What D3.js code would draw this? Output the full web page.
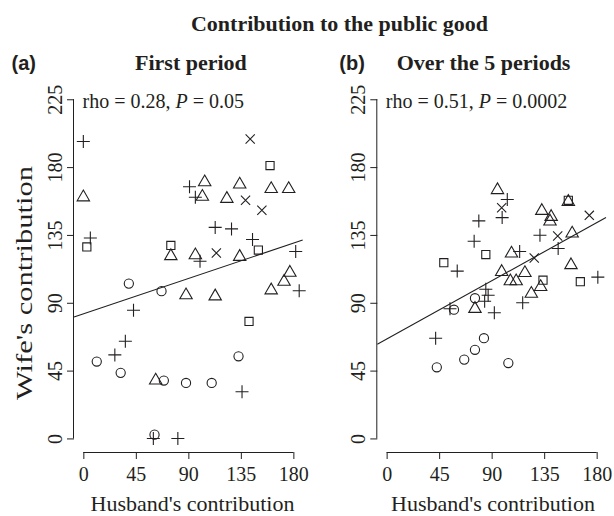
<!DOCTYPE html>
<html lang="en">
<head>
    <meta charset="UTF-8">
    <title>Contribution to the public good</title>
    <style>
        body { margin: 0; background: #fff; }
        svg { display: block; }
        text { font-family: "Liberation Serif", "Times New Roman", serif; fill: #231f20; }
        .tag { font-family: "Liberation Sans", Arial, sans-serif; font-weight: bold; }
    </style>
</head>
<body>
    <div id="chart"></div>
    <script src="https://d3js.org/d3.v7.min.js"></script>
    <script>
        // Points: [husband, wife], one array per symbol
        const firstCircle = [[39, 102.7], [67, 97.7], [11.5, 51], [32, 43.5], [133, 54.5], [69, 38.4], [88, 36.8], [110, 36.8], [61, 2.5]];
        const firstTriangle = [[0, 160], [104, 170], [134, 168.5], [102, 160.4], [123, 159], [161, 165.5], [176, 165.5], [75, 121], [96, 121.6], [134, 120.5], [177, 110], [172, 104], [161, 98.3], [88, 95], [113, 94.3], [62, 38.5]];
        const firstPlus = [[0, 197], [6, 133], [91, 167], [96, 160], [113, 140], [127, 139], [145, 132], [100, 117.5], [182, 124], [185, 98], [43, 85], [36, 64.5], [27, 55.4], [136, 31], [60, 0], [81, 0]];
        const firstCross = [[143, 198.6], [139, 158], [153, 151.4], [114, 123]];
        const firstSquare = [[3, 127], [160, 181], [75, 128], [150, 125], [142, 77.6]];

        const overCircle = [[75.7, 93], [57.7, 85.4], [83.4, 66.5], [75.7, 58.8], [66.5, 52.3], [43, 47.2], [104.3, 50]];
        const overTriangle = [[95, 164.8], [155.7, 157], [133, 151], [141, 147], [140, 144], [159, 136], [107, 122.7], [158, 115], [98.6, 110.5], [118.5, 109.8], [106, 104.3], [111, 104.3], [132, 100.5], [124, 96], [75.7, 86]];
        const overPlus = [[103.4, 158.5], [99, 146.5], [79, 144.3], [131.4, 134.8], [147, 126], [75, 130.8], [114, 124], [60.5, 111], [181, 107], [85, 99], [87, 95], [84, 91], [116.6, 90], [54.3, 86], [92.3, 83.4], [42, 66.5]];
        const overCross = [[98.6, 153], [173.7, 148], [146.6, 134.3], [126.5, 119.7]];
        const overSquare = [[155.7, 158], [85, 122], [49, 116.6], [134, 105], [166, 104]];

        const xTicks = [0, 45, 90, 135, 180];
        const yTicks = [0, 45, 90, 135, 180, 225];

        const panels = [
            { tag: "(a)", title: "First period", rho: "0.28", p: "0.05", intercept: 82.7, slope: 0.26,
              left: 74, tagX: 11.5, titleX: 135, labelX: 192.5,
              sets: [firstCircle, firstTriangle, firstPlus, firstCross, firstSquare] },
            { tag: "(b)", title: "Over the 5 periods", rho: "0.51", p: "0.0002", intercept: 65.9, slope: 0.429,
              left: 377.3, tagX: 339.3, titleX: 396.7, labelX: 493,
              sets: [overCircle, overTriangle, overPlus, overCross, overSquare] }
        ];
        const shapes = ["circle", "triangle", "plus", "cross", "square"];

        const width = 614, height = 516;
        const svg = d3.select("#chart").append("svg")
            .attr("width", width)
            .attr("height", height);

        svg.append("text")
            .attr("x", 339.5).attr("y", 31)
            .attr("text-anchor", "middle")
            .style("font-size", "22px").style("font-weight", "bold")
            .text("Contribution to the public good");

        // R-like symbol outlines, r = circle radius
        const r = 4.6;
        function symbolPath(shape) {
            if (shape === "circle") return d3.arc()({ innerRadius: 0, outerRadius: r, startAngle: 0, endAngle: 2 * Math.PI });
            if (shape === "triangle") {
                const a = 1.5551 * r, b = 1.3468 * r, c = 0.7776 * r;
                return `M0,${-a}L${b},${c}L${-b},${c}Z`;
            }
            if (shape === "plus") {
                const s = Math.SQRT2 * r;
                return `M${-s},0H${s}M0,${-s}V${s}`;
            }
            if (shape === "cross") return `M${-r},${-r}L${r},${r}M${-r},${r}L${r},${-r}`;
            const h = 0.8862 * r;
            return `M${-h},${-h}H${h}V${h}H${-h}Z`;
        }

        panels.forEach(function(pn) {
            const x = d3.scaleLinear().domain([-8, 188]).range([pn.left, pn.left + 228.7]);
            const y = d3.scaleLinear().domain([-9, 234]).range([452, 85.7]);
            const g = svg.append("g");

            g.append("text").attr("class", "tag")
                .attr("x", pn.tagX).attr("y", 70)
                .style("font-size", "20px")
                .text(pn.tag);
            g.append("text")
                .attr("x", pn.titleX).attr("y", 70)
                .style("font-size", "22px").style("font-weight", "bold")
                .text(pn.title);

            // x axis
            const xAxis = g.append("g").attr("transform", `translate(0,452)`)
                .call(d3.axisBottom(x).tickValues(xTicks).tickSize(7).tickSizeOuter(0).tickPadding(8));
            xAxis.select(".domain").attr("d", `M${x(0)},0.5H${x(180)}`);
            xAxis.selectAll("line, .domain").attr("stroke", "#231f20");
            xAxis.selectAll("text").style("font-size", "20px").attr("fill", "#231f20")
                .attr("font-family", null);

            // y axis, rotated labels like R
            const yAxis = g.append("g").attr("transform", `translate(${pn.left},0)`)
                .call(d3.axisLeft(y).tickValues(yTicks).tickSize(7).tickSizeOuter(0));
            yAxis.select(".domain").attr("d", `M-0.5,${y(0)}V${y(225)}`);
            yAxis.selectAll("line, .domain").attr("stroke", "#231f20");
            yAxis.selectAll("text")
                .attr("x", null).attr("dy", null)
                .attr("transform", "translate(-12.5,0) rotate(-90)")
                .attr("text-anchor", "middle")
                .attr("font-family", null)
                .style("font-size", "20px").attr("fill", "#231f20");

            g.append("text")
                .attr("x", pn.labelX).attr("y", 511)
                .attr("text-anchor", "middle")
                .style("font-size", "22px")
                .text("Husband's contribution");

            // fit line across the plot region
            const x0 = -8, x1 = 188;
            g.append("line")
                .attr("x1", x(x0)).attr("y1", y(pn.intercept + pn.slope * x0))
                .attr("x2", x(x1)).attr("y2", y(pn.intercept + pn.slope * x1))
                .attr("stroke", "#231f20").attr("stroke-width", 1.1);

            const label = g.append("text")
                .attr("x", pn.left + 8.5).attr("y", 108)
                .style("font-size", "20px");
            label.append("tspan").text(`rho = ${pn.rho}, `);
            label.append("tspan").style("font-style", "italic").text("P");
            label.append("tspan").text(` = ${pn.p}`);

            pn.sets.forEach(function(pts, i) {
                g.selectAll(null)
                    .data(pts)
                    .enter().append("path")
                    .attr("transform", d => `translate(${x(d[0])},${y(d[1])})`)
                    .attr("d", symbolPath(shapes[i]))
                    .attr("fill", "none")
                    .attr("stroke", "#231f20")
                    .attr("stroke-width", 1.1);
            });
        });

        svg.append("text")
            .attr("transform", "translate(31.5,283) rotate(-90)")
            .attr("text-anchor", "middle")
            .attr("textLength", 234)
            .attr("lengthAdjust", "spacingAndGlyphs")
            .style("font-size", "24px")
            .text("Wife's contribution");
    </script>
</body>
</html>
